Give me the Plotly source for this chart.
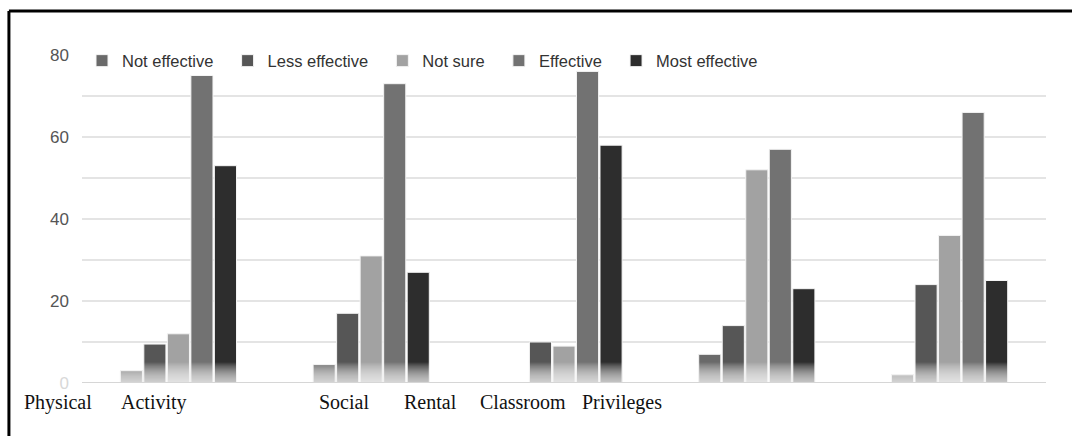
import plotly.graph_objects as go

categories = ["G1", "G2", "G3", "G4", "G5"]
series_names = ["Not effective", "Less effective", "Not sure", "Effective", "Most effective"]
not_effective = [3, 4.5, 0, 7, 2]
less_effective = [9.5, 17, 10, 14, 24]
not_sure = [12, 31, 9, 52, 36]
effective = [75, 73, 76, 57, 66]
most_effective = [53, 27, 58, 23, 25]
series_colors = ["#6a6a6a", "#565656", "#a2a2a2", "#727272", "#2d2d2d"]
bottom_labels = ["Physical", "Activity", "Social", "Rental", "Classroom", "Privileges"]
bottom_label_x = [-0.0623, 0.0384, 0.244, 0.332, 0.411, 0.517]
y_ticks = [0, 20, 40, 60, 80]
y_tick_labels = ['<span style="color:#d8d8d8">0</span>', "20", "40", "60", "80"]

values = [not_effective, less_effective, not_sure, effective, most_effective]

fig = go.Figure()
for name, vals, col in zip(series_names, values, series_colors):
    fig.add_trace(go.Bar(
        x=categories, y=vals, name=name + "\u00a0\u00a0",
        marker=dict(color=col, line=dict(color="#f4f4f4", width=1)),
    ))

shapes = []
# bottom fade of the bars
for i in range(1, 21):
    shapes.append(dict(type="rect", xref="paper", yref="y", x0=0, x1=1,
                       y0=0, y1=0.25 * i, fillcolor="white", opacity=0.065,
                       line=dict(width=0), layer="above"))
shapes.append(dict(type="line", xref="paper", yref="y", x0=0, x1=1, y0=0, y1=0,
                   line=dict(color="#d6d6d6", width=2), layer="above"))
# frame
shapes.append(dict(type="line", xref="paper", yref="paper", x0=-0.0758, x1=-0.0758,
                   y0=-0.2, y1=1.134, line=dict(color="black", width=3)))
shapes.append(dict(type="line", xref="paper", yref="paper", x0=-0.0758, x1=1.05,
                   y0=1.134, y1=1.134, line=dict(color="black", width=3)))

annotations = []
for t, xp in zip(bottom_labels, bottom_label_x):
    annotations.append(dict(text=t, xref="paper", yref="paper", x=xp, y=-0.058,
                            xanchor="left", yanchor="middle", showarrow=False,
                            font=dict(family="Liberation Serif", size=20, color="#111")))

fig.update_layout(
    width=1072, height=436,
    margin=dict(l=82, r=26, t=55, b=53),
    paper_bgcolor="white", plot_bgcolor="white",
    barmode="group", bargap=0.39, bargroupgap=0.06,
    showlegend=True,
    legend=dict(orientation="h", x=0.0, y=0.982, xanchor="left", yanchor="middle",
                bgcolor="rgba(255,255,255,0)",
                font=dict(family="Liberation Sans", size=16.5, color="#333"),
                itemwidth=30, tracegroupgap=0),
    xaxis=dict(showticklabels=False, showgrid=False, showline=False, zeroline=False,
               ticks=""),
    yaxis=dict(range=[0, 80], tickvals=y_ticks, ticktext=y_tick_labels,
               showgrid=False, zeroline=False,
               showline=False, ticks="", ticklabelstandoff=12,
               tickfont=dict(family="Liberation Sans", size=17, color="#555"),
               minor=dict(dtick=10, showgrid=True, gridcolor="#e4e4e4", gridwidth=1.5)),
    shapes=shapes,
    annotations=annotations,
    font=dict(family="Liberation Sans"),
)
fig.write_html("out.html")
